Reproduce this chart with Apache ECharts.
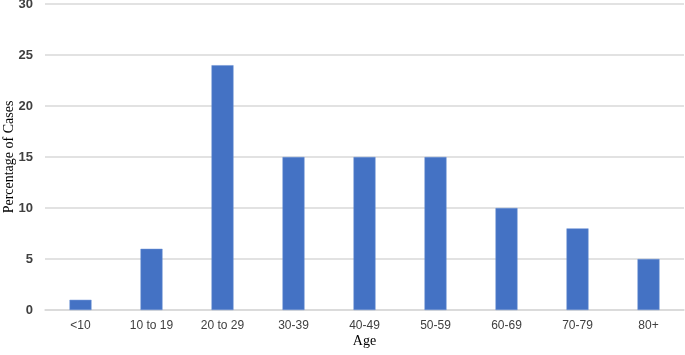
<!DOCTYPE html>
<html><head><meta charset="utf-8">
<script src="https://cdn.jsdelivr.net/npm/echarts@6/dist/echarts.min.js"></script>
<style>html,body{margin:0;padding:0;background:#fff}#c{width:685px;height:355px}</style>
</head><body><div id="c"></div>
<script>
const categories = ['<10','10 to 19','20 to 29','30-39','40-49','50-59','60-69','70-79','80+'];
const values = [1, 6, 24, 15, 15, 15, 10, 8, 5];
const yTicks = {min: 0, max: 30, interval: 5};
const chart = echarts.init(document.getElementById('c'));
chart.setOption({
  animation: false,
  grid: {left: 45, right: 1, top: 4, bottom: 45, containLabel: false, outerBoundsMode: 'none'},
  xAxis: {
    type: 'category', data: categories,
    name: 'Age', nameLocation: 'middle', nameGap: 24, nameMoveOverlap: false,
    nameTextStyle: {fontFamily: 'Liberation Serif', fontSize: 14, color: '#000'},
    axisLine: {lineStyle: {color: '#d9d9d9', width: 1.5}},
    axisTick: {show: false},
    axisLabel: {fontFamily: 'Liberation Sans', fontSize: 12, color: '#404040', margin: 10}
  },
  yAxis: {
    type: 'value', min: yTicks.min, max: yTicks.max, interval: yTicks.interval,
    name: 'Percentage of Cases', nameLocation: 'middle', nameGap: 29, nameMoveOverlap: false,
    nameTextStyle: {fontFamily: 'Liberation Serif', fontSize: 14, color: '#000'},
    axisLine: {show: false}, axisTick: {show: false},
    splitLine: {lineStyle: {color: '#d9d9d9', width: 1.5}},
    axisLabel: {fontFamily: 'Liberation Sans', fontSize: 13, fontWeight: 'bold', color: '#404040', margin: 12}
  },
  series: [{
    type: 'bar', data: values, barWidth: 22,
    itemStyle: {color: '#4472C4', borderColor: '#6a90d4', borderWidth: 0.5}
  }]
});
</script></body></html>
